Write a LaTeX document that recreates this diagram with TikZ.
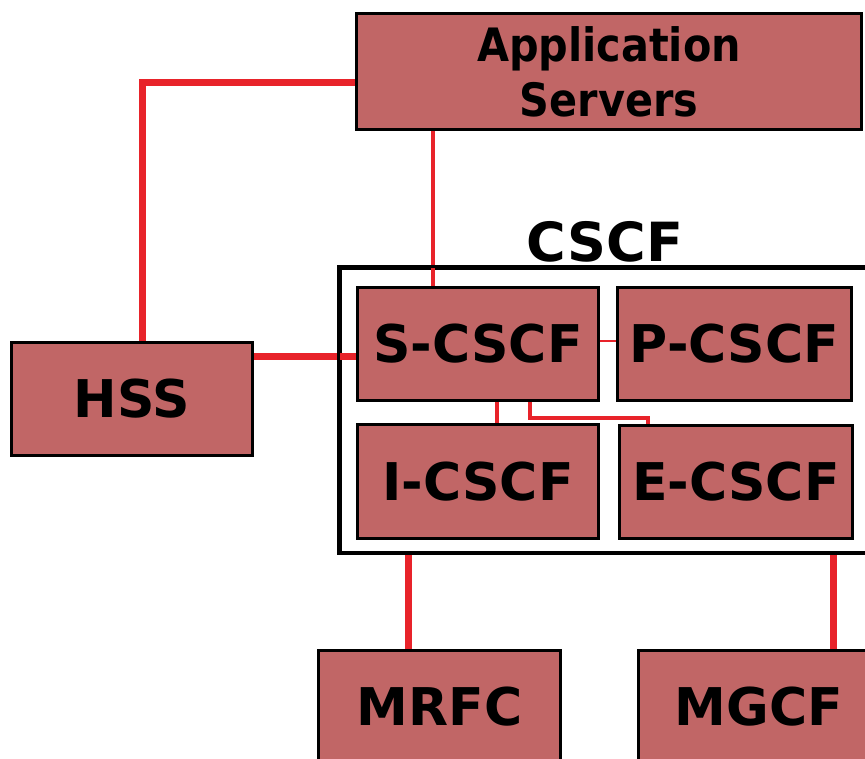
\documentclass[tikz,border=0pt]{standalone}
\usepackage{fontspec}
\setmainfont{DejaVu Sans}
\newfontfamily\condbold{DejaVu Sans Condensed}[BoldFont={* Bold}]
\definecolor{boxfill}{RGB}{193,102,102}
\definecolor{linkred}{RGB}{232,35,42}
\tikzset{
  unit/.style={draw=black, line width=2pt, fill=boxfill, inner sep=0pt,
    font=\fontsize{52}{60}\selectfont\bfseries, text=black},
  thicklink/.style={draw=linkred, line width=7pt},
  thinlink/.style={draw=linkred, line width=4pt},
  hairlink/.style={draw=linkred, line width=2.5pt},
}
\begin{document}
\begin{tikzpicture}[x=1pt, y=-1pt]
  \useasboundingbox (0,0) rectangle (865,758);
  \clip (0,0) rectangle (865,758);

  % container of the call session control functions
  \node[draw=black, line width=3pt, minimum width=540pt, minimum height=284pt,
        inner sep=0pt] (cscf) at (610,410) {};
  \node[font=\fontsize{54}{60}\selectfont\bfseries] (cscflabel) at (605,242) {CSCF};

  % network elements
  \node[unit, minimum width=504pt, minimum height=115pt, align=center,
        font=\condbold\fontsize{46}{55}\selectfont\bfseries] (app) at (609,71.5)
        {Application\\Servers};
  \node[unit, minimum width=240pt, minimum height=112pt] (scscf) at (478,344) {S-CSCF};
  \node[unit, minimum width=233pt, minimum height=112pt] (pcscf) at (734.5,344) {P-CSCF};
  \node[unit, minimum width=240pt, minimum height=113pt] (icscf) at (478,481.5) {I-CSCF};
  \node[unit, minimum width=232pt, minimum height=112pt] (ecscf) at (736,482) {E-CSCF};
  \node[unit, minimum width=240pt, minimum height=112pt] (hss) at (132,399) {HSS};
  \node[unit, minimum width=241pt, minimum height=112pt] (mrfc) at (439.5,707) {MRFC};
  \node[unit, minimum width=240pt, minimum height=112pt] (mgcf) at (759,707) {MGCF};

  % routing points
  \coordinate (hssup) at (142,82);
  \coordinate (sbend) at (530,418);
  \coordinate (ebend) at (648,418);

  % links
  \draw[thicklink] (hss.north -| hssup) -- (hssup) -- (app.west |- hssup);
  \draw[thinlink] (app.south -| 433,0) -- (scscf.north -| 433,0);
  \draw[thicklink] (hss.east |- 0,356) -- (scscf.west |- 0,356);
  \draw[hairlink] (scscf.east |- 0,341) -- (pcscf.west |- 0,341);
  \draw[thinlink] (scscf.south -| 497,0) -- (icscf.north -| 497,0);
  \draw[thinlink] (scscf.south -| sbend) -- (sbend) -- (ebend) -- (ecscf.north -| ebend);
  \draw[thicklink] (cscf.south -| 408,0) -- (mrfc.north -| 408,0);
  \draw[thicklink] (cscf.south -| 833,0) -- (mgcf.north -| 833,0);

  % redraw box outlines over the link ends
  \foreach \n in {app,scscf,pcscf,icscf,ecscf,hss,mrfc,mgcf}{
    \draw[black, line width=2pt] (\n.north west) rectangle (\n.south east);
  }
  \draw[black, line width=3pt] (cscf.north west) rectangle (cscf.south east);
\end{tikzpicture}
\end{document}
